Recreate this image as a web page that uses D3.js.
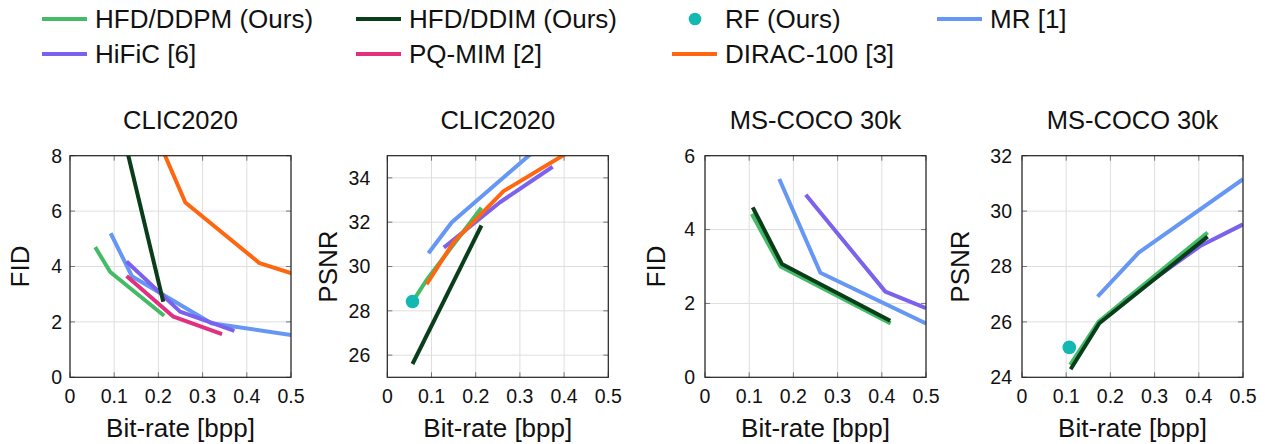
<!DOCTYPE html>
<html lang="en">
<head>
<meta charset="UTF-8" />
<title>Rate-distortion curves</title>
<script src="https://d3js.org/d3.v7.min.js"></script>
<style>
  body { margin: 0; background: #fff; font-family: "Liberation Sans", Arial, Helvetica, sans-serif; }
  svg text { fill: #111; }
</style>
</head>
<body>
<div id="chart"></div>
<script>
// ---- data (bit-rate [bpp], metric) ----
const bitrateTicks = [0, 0.1, 0.2, 0.3, 0.4, 0.5];

const seriesNames = ["HFD/DDPM (Ours)", "HFD/DDIM (Ours)", "RF (Ours)", "MR [1]", "HiFiC [6]", "PQ-MIM [2]", "DIRAC-100 [3]"];

// CLIC2020 - FID
const ddpmClicFid  = [[0.057, 4.7], [0.091, 3.8], [0.213, 2.22]];
const ddimClicFid  = [[0.057, 13.0], [0.211, 2.73]];
const mrClicFid    = [[0.092, 5.2], [0.14, 3.65], [0.32, 1.95], [0.5, 1.53]];
const hificClicFid = [[0.128, 4.18], [0.249, 2.37], [0.372, 1.68]];
const pqmimClicFid = [[0.128, 3.66], [0.234, 2.19], [0.344, 1.56]];
const diracClicFid = [[0.15, 10.4], [0.261, 6.31], [0.429, 4.12], [0.6, 3.25]];

// CLIC2020 - PSNR
const ddpmClicPsnr  = [[0.057, 28.4], [0.091, 29.45], [0.213, 32.65]];
const ddimClicPsnr  = [[0.057, 25.6], [0.213, 31.85]];
const rfClicPsnr    = [[0.057, 28.42]];
const mrClicPsnr    = [[0.093, 30.6], [0.146, 32.0], [0.32, 35.0], [0.5, 37.6]];
const hificClicPsnr = [[0.128, 30.85], [0.255, 32.9], [0.374, 34.5]];
const diracClicPsnr = [[0.089, 29.2], [0.15, 31.1], [0.263, 33.4], [0.43, 35.4], [0.6, 37.0]];

// MS-COCO 30k - FID
const ddpmCocoFid  = [[0.106, 4.42], [0.171, 3.0], [0.42, 1.46]];
const ddimCocoFid  = [[0.108, 4.6], [0.174, 3.07], [0.419, 1.53]];
const mrCocoFid    = [[0.168, 5.37], [0.261, 2.83], [0.5, 1.46]];
const hificCocoFid = [[0.228, 4.94], [0.408, 2.32], [0.5, 1.87]];

// MS-COCO 30k - PSNR
const ddpmCocoPsnr  = [[0.109, 24.45], [0.173, 26.0], [0.42, 29.23]];
const ddimCocoPsnr  = [[0.11, 24.29], [0.175, 25.95], [0.42, 29.08]];
const rfCocoPsnr    = [[0.107, 25.08]];
const mrCocoPsnr    = [[0.171, 26.91], [0.264, 28.5], [0.5, 31.15]];
const hificCocoPsnr = [[0.23, 26.76], [0.403, 28.74], [0.5, 29.52]];

const fidTicksClic = [0, 2, 4, 6, 8];
const psnrTicksClic = [26, 28, 30, 32, 34];
const fidTicksCoco = [0, 2, 4, 6];
const psnrTicksCoco = [24, 26, 28, 30, 32];

// ---- styles ----
const color = d3.scaleOrdinal()
  .domain(seriesNames)
  .range(["#44bb66", "#0a3d1a", "#13b8b3", "#6697f5", "#7b61ee", "#e0307f", "#ff6610"]);

// draw order: baselines first, ours on top
const drawOrder = ["MR [1]", "HiFiC [6]", "PQ-MIM [2]", "HFD/DDPM (Ours)", "HFD/DDIM (Ours)", "DIRAC-100 [3]", "RF (Ours)"];

const panels = [
  { title: "CLIC2020", ylabel: "FID", ydomain: [0, 8], yticks: fidTicksClic, left: 70, labelX: 20, tickGap: 8,
    series: { "HFD/DDPM (Ours)": ddpmClicFid, "HFD/DDIM (Ours)": ddimClicFid, "MR [1]": mrClicFid,
              "HiFiC [6]": hificClicFid, "PQ-MIM [2]": pqmimClicFid, "DIRAC-100 [3]": diracClicFid } },
  { title: "CLIC2020", ylabel: "PSNR", ydomain: [25, 35], yticks: psnrTicksClic, left: 387.3, labelX: 328, tickGap: 17,
    series: { "HFD/DDPM (Ours)": ddpmClicPsnr, "HFD/DDIM (Ours)": ddimClicPsnr, "RF (Ours)": rfClicPsnr,
              "MR [1]": mrClicPsnr, "HiFiC [6]": hificClicPsnr, "DIRAC-100 [3]": diracClicPsnr } },
  { title: "MS-COCO 30k", ylabel: "FID", ydomain: [0, 6], yticks: fidTicksCoco, left: 705, labelX: 656, tickGap: 10,
    series: { "HFD/DDPM (Ours)": ddpmCocoFid, "HFD/DDIM (Ours)": ddimCocoFid, "MR [1]": mrCocoFid, "HiFiC [6]": hificCocoFid } },
  { title: "MS-COCO 30k", ylabel: "PSNR", ydomain: [24, 32], yticks: psnrTicksCoco, left: 1022, labelX: 960, tickGap: 10,
    series: { "HFD/DDPM (Ours)": ddpmCocoPsnr, "HFD/DDIM (Ours)": ddimCocoPsnr, "RF (Ours)": rfCocoPsnr,
              "MR [1]": mrCocoPsnr, "HiFiC [6]": hificCocoPsnr } }
];

const W = 1265, H = 444;
const plotW = 221, plotH = 221.6, plotTop = 155.7;

const svg = d3.select("#chart").append("svg")
  .attr("width", W).attr("height", H);

// ---- panels ----
panels.forEach((p, i) => {
  const x = d3.scaleLinear().domain([0, 0.5]).range([0, plotW]);
  const y = d3.scaleLinear().domain(p.ydomain).range([plotH, 0]);

  const g = svg.append("g").attr("transform", `translate(${p.left},${plotTop})`);

  g.append("clipPath").attr("id", "clip" + i)
    .append("rect").attr("width", plotW).attr("height", plotH);

  // grid
  g.append("g").selectAll("line.vx").data(bitrateTicks).join("line")
    .attr("x1", d => x(d)).attr("x2", d => x(d)).attr("y1", 0).attr("y2", plotH)
    .attr("stroke", "#dedede").attr("stroke-width", 1);
  g.append("g").selectAll("line.hy").data(p.yticks).join("line")
    .attr("x1", 0).attr("x2", plotW).attr("y1", d => y(d)).attr("y2", d => y(d))
    .attr("stroke", "#dedede").attr("stroke-width", 1);

  // inner tick marks on all four sides
  const tk = 5;
  const ticks = g.append("g").attr("stroke", "#777").attr("stroke-width", 1);
  bitrateTicks.forEach(t => {
    ticks.append("line").attr("x1", x(t)).attr("x2", x(t)).attr("y1", plotH).attr("y2", plotH - tk);
    ticks.append("line").attr("x1", x(t)).attr("x2", x(t)).attr("y1", 0).attr("y2", tk);
  });
  p.yticks.forEach(t => {
    ticks.append("line").attr("x1", 0).attr("x2", tk).attr("y1", y(t)).attr("y2", y(t));
    ticks.append("line").attr("x1", plotW).attr("x2", plotW - tk).attr("y1", y(t)).attr("y2", y(t));
  });

  // series
  const line = d3.line().x(d => x(d[0])).y(d => y(d[1]));
  const plot = g.append("g").attr("clip-path", `url(#clip${i})`);
  drawOrder.forEach(name => {
    const data = p.series[name];
    if (!data) return;
    if (name === "RF (Ours)") {
      plot.selectAll(null).data(data).join("circle")
        .attr("cx", d => x(d[0])).attr("cy", d => y(d[1])).attr("r", 6.8)
        .attr("fill", color(name));
    } else {
      plot.append("path").datum(data)
        .attr("d", line)
        .attr("fill", "none")
        .attr("stroke", color(name))
        .attr("stroke-width", 4)
        .attr("stroke-linejoin", "round");
    }
  });

  // frame
  g.append("rect").attr("width", plotW).attr("height", plotH)
    .attr("fill", "none").attr("stroke", "#222").attr("stroke-width", 1.2);

  // tick labels
  g.append("g").selectAll("text").data(bitrateTicks).join("text")
    .attr("x", d => x(d)).attr("y", plotH + 26)
    .attr("text-anchor", "middle").style("font-size", "19.5px")
    .text(d => d === 0 ? "0" : d3.format(".1f")(d));
  g.append("g").selectAll("text").data(p.yticks).join("text")
    .attr("x", -p.tickGap).attr("y", d => y(d)).attr("dy", "0.35em")
    .attr("text-anchor", "end").style("font-size", "19.5px")
    .text(d => d);

  // titles / labels
  g.append("text").attr("x", plotW / 2).attr("y", 129.3 - plotTop)
    .attr("text-anchor", "middle").style("font-size", "25.5px").text(p.title);
  g.append("text").attr("x", plotW / 2).attr("y", 437 - plotTop)
    .attr("text-anchor", "middle").style("font-size", "26px").text("Bit-rate [bpp]");
  svg.append("text")
    .attr("transform", `translate(${p.labelX},${plotTop + plotH / 2}) rotate(-90)`)
    .attr("text-anchor", "middle").attr("dy", "0.35em")
    .style("font-size", "26px").text(p.ylabel);
});

// ---- legend ----
const legendPos = {
  "HFD/DDPM (Ours)": [42, 0], "HFD/DDIM (Ours)": [356, 0], "RF (Ours)": [672, 0], "MR [1]": [937, 0],
  "HiFiC [6]": [42, 1], "PQ-MIM [2]": [356, 1], "DIRAC-100 [3]": [672, 1]
};
const rowY = [19, 54];
seriesNames.forEach(name => {
  const [lx, row] = legendPos[name];
  const ly = rowY[row];
  const lg = svg.append("g");
  if (name === "RF (Ours)") {
    lg.append("circle").attr("cx", lx + 23).attr("cy", ly).attr("r", 6.3).attr("fill", color(name));
  } else {
    lg.append("line").attr("x1", lx).attr("x2", lx + 45).attr("y1", ly).attr("y2", ly)
      .attr("stroke", color(name)).attr("stroke-width", 4);
  }
  lg.append("text").attr("x", lx + 53).attr("y", ly).attr("dy", "0.36em")
    .style("font-size", "26px").text(name);
});
</script>
</body>
</html>
